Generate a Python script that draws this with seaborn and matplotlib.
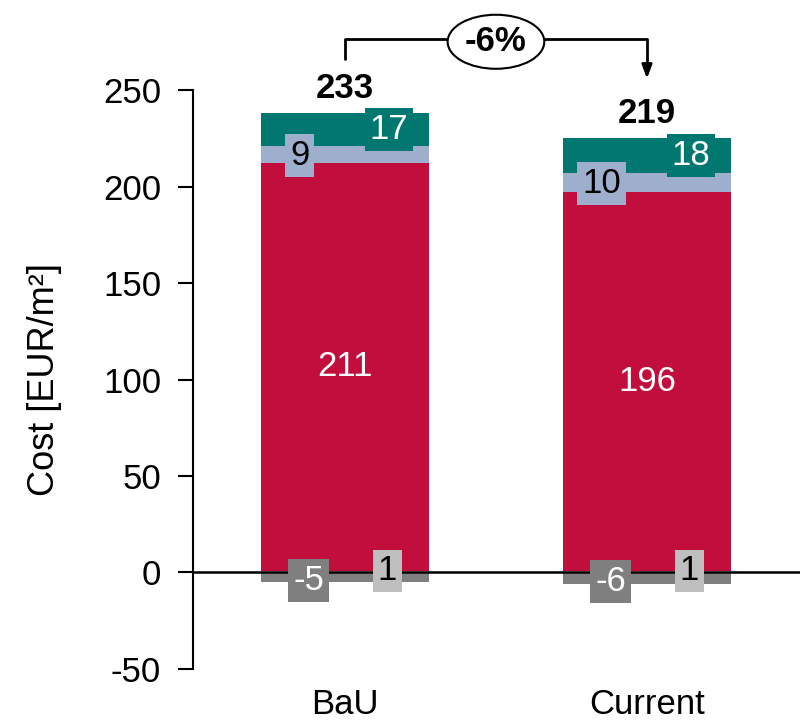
import matplotlib
matplotlib.use('Agg')
import matplotlib.pyplot as plt
from matplotlib.patches import Ellipse
import seaborn as sns
import numpy as np

categories = ['BaU', 'Current']
totals = [233, 219]
other_pos = [1, 1]        # light grey, small positive item
main_cost = [211, 196]    # red
mid_cost = [9, 10]        # light blue
top_cost = [17, 18]       # teal
credit = [-5, -6]         # dark grey, negative
change_label = '-6%'

c_red = '#C20E3C'
c_blue = '#9DAFCD'
c_teal = '#00786F'
c_dgrey = '#7F7F7F'
c_lgrey = '#BFBFBF'

sns.set_style('white')
plt.rcParams['font.family'] = ['Liberation Sans', 'DejaVu Sans']
plt.rcParams['axes.unicode_minus'] = False
plt.rcParams['text.color'] = 'black'
plt.rcParams['axes.labelcolor'] = 'black'
plt.rcParams['xtick.color'] = 'black'
plt.rcParams['ytick.color'] = 'black'

fig = plt.figure(figsize=(8.09, 7.23), dpi=100)
ax = fig.add_axes([0.2386, 0.0747, 0.7504, 0.8008])

w = 0.556
bottom = np.zeros(2)
for vals, col in [(other_pos, c_lgrey), (main_cost, c_red), (mid_cost, c_blue), (top_cost, c_teal)]:
    sns.barplot(x=categories, y=vals, bottom=bottom, color=col, width=w,
                saturation=1, ax=ax, linewidth=0)
    bottom = bottom + np.array(vals)
sns.barplot(x=categories, y=credit, color=c_dgrey, width=w, saturation=1, ax=ax, linewidth=0)

ax.set_xlim(-0.503, 1.507)
ax.set_ylim(-50, 250)
ax.axhline(0, color='black', lw=1.8, zorder=5)

# segment labels
fs = 25
def box_label(x, y, txt, fc, tc):
    ax.text(x, y, txt, ha='center', va='center', fontsize=fs, color=tc, zorder=6,
            bbox=dict(boxstyle='square,pad=0.14', fc=fc, ec='none'))

for i in range(2):
    base = other_pos[i]
    ax.text(i, base + main_cost[i] / 2, str(main_cost[i]), ha='center', va='center',
            fontsize=fs, color='white')
    y_mid = base + main_cost[i]
    box_label(i - 0.15, y_mid + mid_cost[i] / 2 - 0.5, str(mid_cost[i]), c_blue, 'black')
    y_top = y_mid + mid_cost[i]
    box_label(i + 0.145, y_top + top_cost[i] / 2, str(top_cost[i]), c_teal, 'white')
    box_label(i - 0.12, credit[i] / 2 - 1.5, str(credit[i]), c_dgrey, 'white')
    box_label(i + 0.14, 0.8, str(other_pos[i]), c_lgrey, 'black')
    ax.text(i, y_top + top_cost[i] + 13,
            str(totals[i]), ha='center', va='center', fontsize=fs, fontweight='bold',
            clip_on=False)

# change bracket
ax.plot([0, 0, 1, 1], [266, 276.5, 276.5, 262], color='black', lw=2, clip_on=False)
ax.annotate('', xy=(1, 254.5), xytext=(1, 263),
            arrowprops=dict(arrowstyle='-|>,head_width=0.3,head_length=0.8',
                            color='black', lw=2), annotation_clip=False)
ell = Ellipse((0.5, 275), width=0.32, height=28, fc='white', ec='black', lw=1.5,
              clip_on=False, zorder=7)
ax.add_patch(ell)
ax.text(0.5, 275, change_label, ha='center', va='center', fontsize=fs,
        fontweight='bold', zorder=8, clip_on=False)

ax.set_ylabel('Cost [EUR/m²]', fontsize=26)
ax.yaxis.set_label_coords(-0.216, 0.5)
ax.set_yticks([-50, 0, 50, 100, 150, 200, 250])
ax.tick_params(axis='y', labelsize=fs, length=11, width=1.5, direction='out', left=True, pad=12)
ax.tick_params(axis='x', labelsize=fs, length=0, pad=14)
for s in ['top', 'right', 'bottom']:
    ax.spines[s].set_visible(False)
ax.spines['left'].set_linewidth(1.5)
ax.spines['left'].set_color('black')

fig.savefig('out.png', dpi=100)
